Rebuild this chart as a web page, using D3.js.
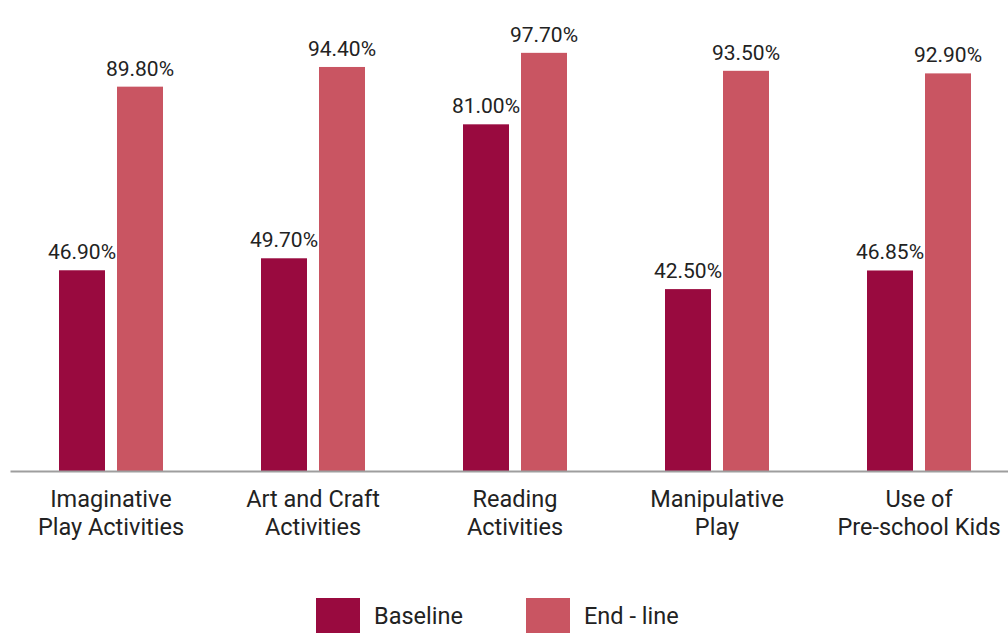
<!DOCTYPE html>
<html>
<head>
<meta charset="utf-8">
<script src="https://cdn.jsdelivr.net/npm/d3@7"></script>
<style>
  body { margin: 0; background: #fff; }
  svg text { font-family: Roboto, "Noto Sans", sans-serif; fill: #222; }
</style>
</head>
<body>
<svg id="chart" width="1008" height="633"></svg>
<script>
// data
var categories = [
  ["Imaginative", "Play Activities"],
  ["Art and Craft", "Activities"],
  ["Reading", "Activities"],
  ["Manipulative", "Play"],
  ["Use of", "Pre-school Kids"]
];
var baseline = [46.90, 49.70, 81.00, 42.50, 46.85];
var endline = [89.80, 94.40, 97.70, 93.50, 92.90];
var seriesNames = ["Baseline", "End - line"];
var colors = ["#990a3f", "#c95562"];

var svg = d3.select("#chart");

var x0 = d3.scaleBand()
    .domain(d3.range(categories.length))
    .range([10, 1020])
    .paddingInner(0).paddingOuter(0);

var x1 = d3.scaleBand()
    .domain([0, 1])
    .range([x0.bandwidth() / 2 - 52, x0.bandwidth() / 2 + 52])
    .paddingInner(0.207).paddingOuter(0);

var y = d3.scaleLinear().domain([0, 100]).range([471, 43]);

var rows = categories.map(function(c, i) {
  return {i: i, vals: [baseline[i], endline[i]]};
});

var groups = svg.selectAll("g.grp")
    .data(rows).enter()
    .append("g").attr("class", "grp")
    .attr("transform", function(d) { return "translate(" + x0(d.i) + ",0)"; });

groups.selectAll("rect")
    .data(function(d) { return d.vals.map(function(v, k) { return {k: k, v: v}; }); })
    .enter().append("rect")
    .attr("x", function(d) { return x1(d.k); })
    .attr("width", x1.bandwidth())
    .attr("y", function(d) { return y(d.v); })
    .attr("height", function(d) { return y(0) - y(d.v); })
    .attr("fill", function(d) { return colors[d.k]; });

groups.selectAll("text.val")
    .data(function(d) { return d.vals.map(function(v, k) { return {k: k, v: v}; }); })
    .enter().append("text").attr("class", "val")
    .attr("x", function(d) { return x1(d.k) + x1.bandwidth() / 2; })
    .attr("y", function(d) { return y(d.v) - 11; })
    .attr("text-anchor", "middle")
    .style("font-size", "21px")
    .text(function(d) { return d.v.toFixed(2) + "%"; });

// axis line
var xAxis = d3.axisBottom(x0).tickSize(0).tickFormat("");
var ax = svg.append("g").attr("transform", "translate(0," + y(0) + ")").call(xAxis);
ax.select(".domain").attr("stroke", "#9e9e9e").attr("stroke-width", 2);

// category labels
groups.each(function(d) {
  var t = d3.select(this).append("text")
      .attr("text-anchor", "middle")
      .style("font-size", "23.5px");
  categories[d.i].forEach(function(line, j) {
    t.append("tspan")
      .attr("x", x0.bandwidth() / 2)
      .attr("y", 507 + j * 28)
      .text(line);
  });
});

// legend
var legend = svg.append("g");
var lx = [316, 526];
seriesNames.forEach(function(name, k) {
  legend.append("rect")
    .attr("x", lx[k]).attr("y", 598)
    .attr("width", 44).attr("height", 35)
    .attr("fill", colors[k]);
  legend.append("text")
    .attr("x", lx[k] + 58).attr("y", 624)
    .style("font-size", "23.5px")
    .text(name);
});
</script>
</body>
</html>
